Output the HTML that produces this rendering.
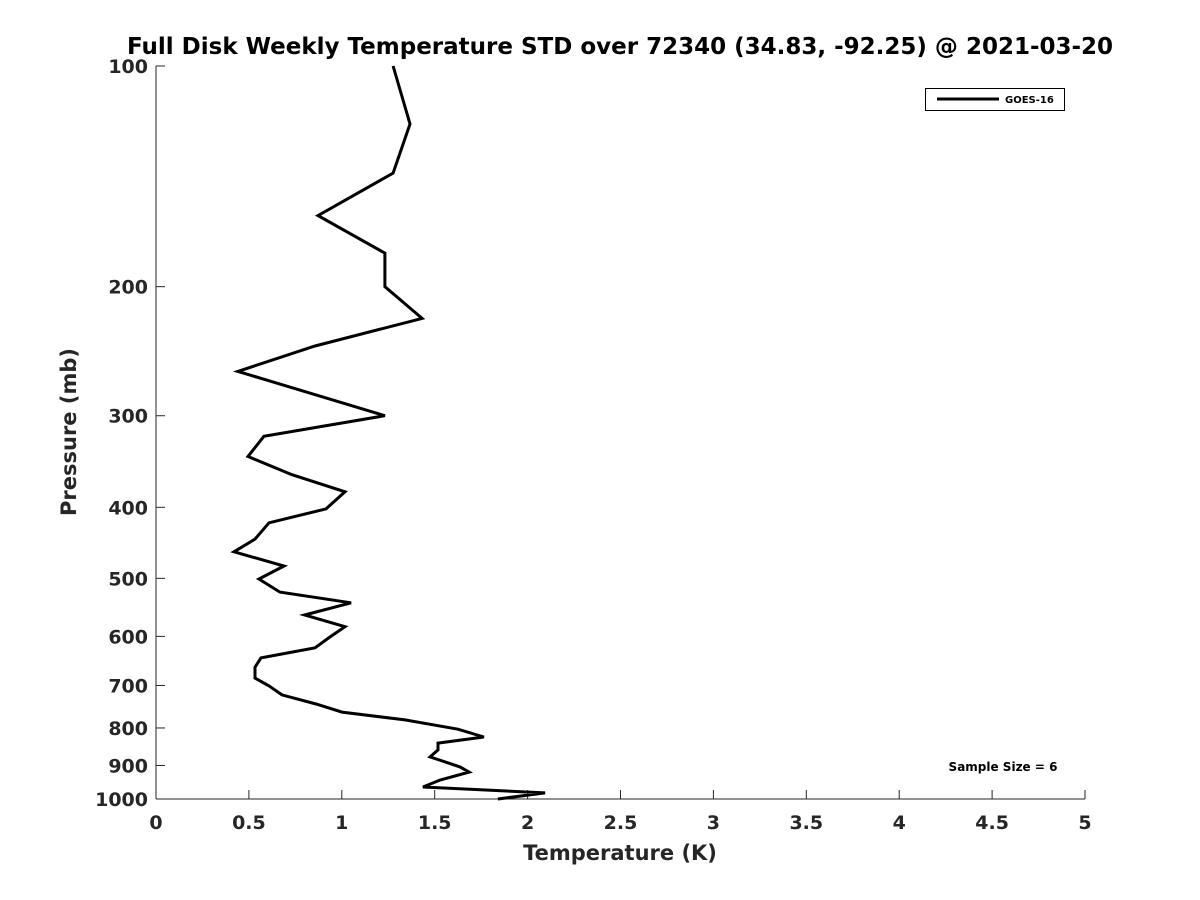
<!DOCTYPE html>
<html><head><meta charset="utf-8"><style>
body{margin:0;background:#fff}
svg{display:block;font-family:"DejaVu Sans","Liberation Sans",sans-serif;font-weight:bold}
</style></head><body>
<svg id="c" width="1200" height="900" xmlns="http://www.w3.org/2000/svg">
<rect width="1200" height="900" fill="#fff"/>
<text x="620" y="54" font-size="23" text-anchor="middle" fill="#000">Full Disk Weekly Temperature STD over 72340 (34.83, -92.25) @ 2021-03-20</text>
<g id="axes"></g>
<g>
<rect x="925.5" y="88.5" width="139" height="22" fill="#fff" stroke="#000" stroke-width="1"/>
<line x1="937" y1="99" x2="999" y2="99" stroke="#000" stroke-width="3"/>
<text x="1005" y="103" font-size="10">GOES-16</text>
</g>
<text x="1003" y="771" font-size="12" text-anchor="middle">Sample Size = 6</text>
<text x="620" y="860" font-size="21" text-anchor="middle" fill="#262626">Temperature (K)</text>
<text transform="translate(76,432) rotate(-90)" font-size="21" text-anchor="middle" fill="#262626">Pressure (mb)</text>
</svg>
<script>
const temps=[1.276,1.367,1.276,0.872,1.232,1.232,1.432,0.856,0.441,1.232,0.581,0.495,0.732,1.017,0.915,0.608,0.533,0.42,0.689,0.554,0.667,1.05,0.80,1.017,0.937,0.856,0.565,0.533,0.533,0.608,0.678,0.861,1.001,1.34,1.625,1.765,1.518,1.518,1.475,1.636,1.685,1.529,1.437,2.094,1.84];
const pressures=[100,120,140,160,180,200,221,241,261,300,320,341,361,381,402,420,442,460,481,501,522,540,561,582,601,622,642,661,684,701,721,742,761,780,803,823,839,857,876,904,919,942,963,981,1000];
const xTicks=[0,0.5,1,1.5,2,2.5,3,3.5,4,4.5,5];
const yTicks=[100,200,300,400,500,600,700,800,900,1000];
const X0=156,X1=1085,Y0=66,Y1=799;
const xs=t=>X0+(t-0)/5*(X1-X0);
const ys=p=>Y0+(Math.log10(p)-2)/1*(Y1-Y0);
const NS="http://www.w3.org/2000/svg";
const g=document.getElementById('axes');
function mk(tag,attrs){const e=document.createElementNS(NS,tag);for(const k in attrs)e.setAttribute(k,attrs[k]);g.appendChild(e);return e;}
let e=mk('line',{x1:X0,y1:Y0,x2:X0,y2:Y1,stroke:'#262626','stroke-width':1});


e=mk('line',{x1:X0,y1:Y1,x2:X1,y2:Y1,stroke:'#262626','stroke-width':1});


xTicks.forEach(t=>{
  const x=xs(t);
  let l=mk('line',{x1:x,y1:Y1,x2:x,y2:Y1-9,stroke:'#262626'});
  
  
  let tx=mk('text',{x:x,y:Y1+30,'font-size':19,'text-anchor':'middle',fill:'#262626'});
  tx.textContent=t;
  
  
});
yTicks.forEach(p=>{
  const y=ys(p);
  let l=mk('line',{x1:X0,y1:y,x2:X0+9,y2:y,stroke:'#262626'});
  
  
  let tx=mk('text',{x:X0-8,y:y+7,'font-size':19,'text-anchor':'end',fill:'#262626'});
  tx.textContent=p;
  
  
});
const pts=temps.map((t,i)=>xs(t).toFixed(1)+','+ys(pressures[i]).toFixed(1)).join(' ');
const pl=mk('polyline',{points:pts,fill:'none',stroke:'#000','stroke-width':3,'stroke-linejoin':'miter'});


</script>
</body></html>
